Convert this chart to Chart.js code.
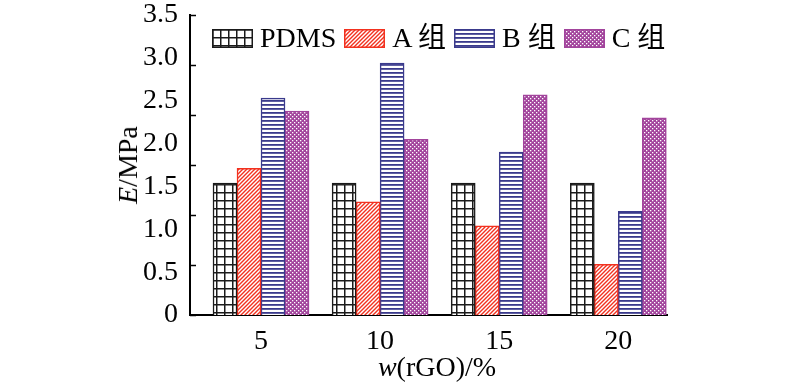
<!DOCTYPE html>
<html>
<head>
<meta charset="utf-8">
<script src="https://cdn.jsdelivr.net/npm/chart.js@4"></script>
<style>
  body { margin: 0; background: #fff; }
  #wrap { position: relative; width: 800px; height: 391px; font-family: 'Liberation Serif', 'Times New Roman', 'Noto Sans CJK SC', serif; color: #000; }
  #legenda { position: absolute; left: 212px; top: 27px; display: flex; align-items: center; font-size: 28px; line-height: 22px; }
  .item { display: flex; align-items: center; margin-right: 8px; }
  .item canvas { margin-right: 7px; }
  .tituloY { position: absolute; left: 128px; top: 165px; transform: translate(-50%, -50%) rotate(-90deg); font-size: 28px; white-space: nowrap; }
  .tituloX { position: absolute; left: 437px; top: 351px; transform: translateX(-50%); font-size: 28px; white-space: nowrap; }
</style>
</head>
<body>
<div id="wrap">
  <canvas id="grafico" width="800" height="391"></canvas>
  <div id="legenda"></div>
  <div class="tituloY"><i>E</i>/MPa</div>
  <div class="tituloX"><i>w</i>(rGO)/%</div>
</div>
<script>
const categorias = [5, 10, 15, 20];
const nomes = ['PDMS', 'A 组', 'B 组', 'C 组'];
const pdms = [1.54, 1.54, 1.54, 1.54];
const grupoA = [1.71, 1.32, 1.04, 0.59];
const grupoB = [2.53, 2.94, 1.90, 1.21];
const grupoC = [2.38, 2.05, 2.57, 2.30];
const yTicks = [0, 0.5, 1.0, 1.5, 2.0, 2.5, 3.0, 3.5];
const marcasY = [0, 0.5, 1.0, 1.5, 2.0, 2.5, 3.0];

const cores = ['#1a1a1a', '#f2311f', '#3a3a8c', '#a2449c'];

// desenha o ladrilho de cada textura
function ladrilho(tipo) {
  const c = document.createElement('canvas');
  const g = c.getContext('2d');
  if (tipo === 0) {
    c.width = 8; c.height = 8;
    g.fillStyle = '#fff'; g.fillRect(0, 0, 8, 8);
    g.fillStyle = cores[0];
    g.fillRect(0, 0, 1.5, 8);
    g.fillRect(0, 0, 8, 1.5);
  } else if (tipo === 1) {
    c.width = 4; c.height = 4;
    g.fillStyle = '#fff'; g.fillRect(0, 0, 4, 4);
    g.strokeStyle = cores[1]; g.lineWidth = 1.4;
    g.beginPath();
    g.moveTo(-1, 5); g.lineTo(5, -1);
    g.moveTo(-1, 1); g.lineTo(1, -1);
    g.moveTo(3, 5); g.lineTo(5, 3);
    g.stroke();
  } else if (tipo === 2) {
    c.width = 4; c.height = 4;
    g.fillStyle = '#fff'; g.fillRect(0, 0, 4, 4);
    g.fillStyle = cores[2]; g.fillRect(0, 0, 4, 1.8);
  } else {
    c.width = 4; c.height = 4;
    g.fillStyle = cores[3]; g.fillRect(0, 0, 4, 4);
    g.fillStyle = '#fff';
    g.fillRect(0, 0, 1.3, 1.3);
    g.fillRect(2, 2, 1.3, 1.3);
  }
  return c;
}

const ctx = document.getElementById('grafico').getContext('2d');
const texturas = [0, 1, 2, 3].map(t => ctx.createPattern(ladrilho(t), 'repeat'));

// legenda em HTML
const legenda = document.getElementById('legenda');
nomes.forEach((nome, i) => {
  const item = document.createElement('div');
  item.className = 'item';
  const amostra = document.createElement('canvas');
  amostra.width = 41; amostra.height = 19;
  const g = amostra.getContext('2d');
  g.fillStyle = g.createPattern(ladrilho(i), 'repeat');
  g.fillRect(0, 0, 41, 19);
  g.strokeStyle = cores[i]; g.lineWidth = 1.5;
  g.strokeRect(0.75, 0.75, 39.5, 17.5);
  const txt = document.createElement('span');
  txt.innerText = nome;
  item.append(amostra, txt);
  legenda.append(item);
});

const marcasPlugin = {
  id: 'marcas',
  afterDraw(chart) {
    const sc = chart.scales.yMarca;
    const c = chart.ctx;
    const left = chart.chartArea.left;
    c.save();
    c.strokeStyle = '#000';
    c.lineWidth = 1.5;
    marcasY.forEach(v => {
      const y = Math.round(sc.getPixelForValue(v)) + 0.5;
      c.beginPath();
      c.moveTo(left, y);
      c.lineTo(left + 6, y);
      c.stroke();
    });
    c.restore();
  }
};

const series = [pdms, grupoA, grupoB, grupoC];
const fonte = { family: "'Liberation Serif', 'Times New Roman', serif", size: 28 };

new Chart(ctx, {
  type: 'bar',
  data: {
    datasets: series.map((vals, i) => ({
      label: nomes[i],
      data: categorias.map((c, j) => ({ x: c, y: vals[j] })),
      backgroundColor: texturas[i],
      borderColor: cores[i],
      borderWidth: 1.5,
      barThickness: 24,
    })),
  },
  options: {
    responsive: false,
    animation: false,
    devicePixelRatio: 1,
    layout: { padding: { top: 15, right: 133, left: 0, bottom: 0 } },
    plugins: { legend: { display: false }, tooltip: { enabled: false } },
    scales: {
      x: {
        type: 'linear',
        offset: false,
        min: 2.019,
        max: 22.044,
        afterBuildTicks: axis => { axis.ticks = categorias.map(v => ({ value: v })); },
        afterFit: axis => { axis.height = 76; axis.paddingLeft = 0; axis.paddingRight = 0; },
        grid: { display: false, drawTicks: false },
        border: { display: true, color: '#000', width: 2 },
        ticks: { color: '#000', font: fonte, padding: 10, maxRotation: 0 },
      },
      y: {
        min: 0,
        max: 3.5,
        afterBuildTicks: axis => { axis.ticks = yTicks.map(v => ({ value: v })); },
        afterFit: axis => { axis.width = 190; axis.paddingTop = 0; axis.paddingBottom = 0; },
        grid: { display: false, drawTicks: false },
        border: { display: true, color: '#000', width: 2 },
        ticks: {
          color: '#000',
          font: fonte,
          padding: 12,
          callback: v => (v === 0 ? '0' : v.toFixed(1)),
        },
      },
      yMarca: {
        type: 'linear',
        axis: 'y',
        position: 'left',
        display: false,
        min: 0,
        max: 3,
      },
    },
  },
  plugins: [marcasPlugin],
});
</script>
</body>
</html>
